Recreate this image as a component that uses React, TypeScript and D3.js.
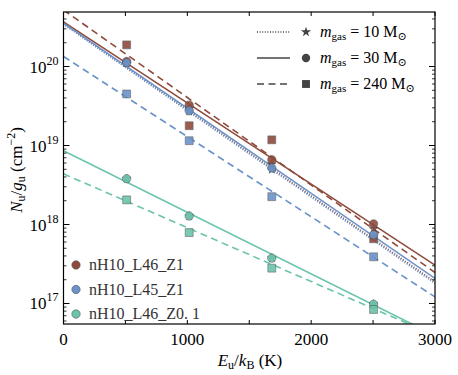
import React from 'react';
import * as d3 from 'd3';

// upper level energies of H2 S(0)..S(3), K
const energies = [510, 1015, 1682, 2504];

const seriesNames = ['nH10_L46_Z1', 'nH10_L45_Z1', 'nH10_L46_Z0. 1'];
const seriesColors = ['#8e4b3c', '#6b93c9', '#6cc4ad'];

// N_u/g_u for each gas mass, per series
const n10 = [
  [1.12e20, 2.9e19, 5.8e18, 8.8e17],
  [1.1e20, 2.7e19, 4.95e18, 7.3e17],
  [3.8e18, 1.28e18, 3.75e17, 9.8e16],
];
const n30 = [
  [1.16e20, 3.25e19, 6.6e18, 1.02e18],
  [1.12e20, 2.75e19, 5.2e18, 7.4e17],
  [3.8e18, 1.28e18, 3.75e17, 9.8e16],
];
const n240 = [
  [1.88e20, 1.78e19, 1.18e19, 6.6e17],
  [4.5e19, 1.15e19, 2.25e18, 3.9e17],
  [2.05e18, 7.9e17, 2.8e17, 8.4e16],
];

// fitted lines: intercept at E=0 and excitation temperature
const fit10 = [[3.5e20, 398], [3.45e20, 397]];
const fit30 = [[3.68e20, 423], [3.55e20, 403], [8.6e18, 557]];
const fit240 = [[5.2e20, 392], [1.34e20, 428], [4.38e18, 637]];

const legendMass = ['10', '30', '240'];

const W = 458, H = 375;
const m = { left: 63.5, right: 435, top: 12, bottom: 324 };
const font = '"Liberation Serif", "DejaVu Serif", serif';

const x = d3.scaleLinear().domain([0, 3000]).range([m.left, m.right]);
const y = d3.scaleLog().domain([5.5e16, 4.9e20]).range([m.bottom, m.top]);

const star = d3.symbol().type(d3.symbolStar).size(22)();
const bigStar = d3.symbol().type(d3.symbolStar).size(32)();
const square = d3.symbol().type(d3.symbolSquare).size(62)();
const circle = d3.symbol().type(d3.symbolCircle).size(55)();

function fitPath(n0: number, t: number) {
  const line = d3.line<number>().x((e) => x(e)).y((e) => y(n0 * Math.exp(-e / t)));
  return line([0, 3000]) as string;
}

export default function App() {
  const xTicks = d3.range(0, 3001, 500);
  const yMajor = [1e17, 1e18, 1e19, 1e20];
  const yMinor: number[] = [];
  for (let p = 16; p <= 20; p++) {
    for (let k = 2; k <= 9; k++) {
      const v = k * Math.pow(10, p);
      if (v >= 5.5e16 && v <= 4.9e20) yMinor.push(v);
    }
  }
  const dash = { dashed: '7,4.5', dotted: '1,1.6' };

  return (
    <svg width={W} height={H} style={{ position: 'absolute', left: 0, top: 0 }}>
      <rect width={W} height={H} fill="#fff" />
      <defs>
        <clipPath id="plot">
          <rect x={m.left} y={m.top} width={m.right - m.left} height={m.bottom - m.top} />
        </clipPath>
      </defs>

      <g clipPath="url(#plot)">
        {fit240.map((f, i) => (
          <path key={'d' + i} d={fitPath(f[0], f[1])} fill="none" stroke={seriesColors[i]}
            strokeWidth={1.6} strokeDasharray={dash.dashed} />
        ))}
        {fit10.map((f, i) => (
          <path key={'o' + i} d={fitPath(f[0], f[1])} fill="none" stroke={seriesColors[i]}
            strokeWidth={2} strokeDasharray={dash.dotted} />
        ))}
        {fit30.map((f, i) => (
          <path key={'s' + i} d={fitPath(f[0], f[1])} fill="none" stroke={seriesColors[i]} strokeWidth={1.6} />
        ))}

        {seriesNames.map((_, i) => (
          <g key={'m' + i}>
            {n10[i].map((v, j) => (
              <path key={'t' + j} d={star} transform={`translate(${x(energies[j])},${y(v)})`}
                fill={seriesColors[i]} stroke="#333" strokeWidth={0.6} opacity={0.9} />
            ))}
            {n30[i].map((v, j) => (
              <path key={'c' + j} d={circle} transform={`translate(${x(energies[j])},${y(v)})`}
                fill={seriesColors[i]} stroke="#555" strokeWidth={0.6} opacity={0.9} />
            ))}
            {n240[i].map((v, j) => (
              <path key={'q' + j} d={square} transform={`translate(${x(energies[j])},${y(v)})`}
                fill={seriesColors[i]} stroke="#555" strokeWidth={0.6} opacity={0.9} />
            ))}
          </g>
        ))}
      </g>

      {/* frame and ticks */}
      <rect x={m.left} y={m.top} width={m.right - m.left} height={m.bottom - m.top}
        fill="none" stroke="#000" strokeWidth={1.2} />
      {xTicks.map((t) => (
        <g key={'xt' + t} stroke="#000" strokeWidth={1}>
          <line x1={x(t)} x2={x(t)} y1={m.bottom} y2={m.bottom - 4} />
          <line x1={x(t)} x2={x(t)} y1={m.top} y2={m.top + 4} />
        </g>
      ))}
      {yMajor.map((t) => (
        <g key={'ym' + t} stroke="#000" strokeWidth={1}>
          <line x1={m.left} x2={m.left + 6} y1={y(t)} y2={y(t)} />
          <line x1={m.right} x2={m.right - 6} y1={y(t)} y2={y(t)} />
        </g>
      ))}
      {yMinor.map((t) => (
        <g key={'yn' + t} stroke="#000" strokeWidth={0.8}>
          <line x1={m.left} x2={m.left + 3} y1={y(t)} y2={y(t)} />
          <line x1={m.right} x2={m.right - 3} y1={y(t)} y2={y(t)} />
        </g>
      ))}

      {/* tick labels */}
      {d3.range(0, 3001, 1000).map((t) => (
        <text key={'xl' + t} x={x(t)} y={345} textAnchor="middle" fontFamily={font} fontSize={17}>{t}</text>
      ))}
      {yMajor.map((t) => (
        <text key={'yl' + t} x={m.left - 5} y={y(t) + 6} textAnchor="end" fontFamily={font} fontSize={17}>
          10<tspan dy={-8} fontSize={12}>{Math.round(Math.log10(t))}</tspan>
        </text>
      ))}

      {/* axis titles */}
      <text x={250} y={366} textAnchor="middle" fontFamily={font} fontSize={17}>
        <tspan fontStyle="italic">E</tspan><tspan fontSize={12} dy={3}>u</tspan>
        <tspan dy={-3}>/</tspan><tspan fontStyle="italic">k</tspan><tspan fontSize={12} dy={3}>B</tspan>
        <tspan dy={-3}> (K)</tspan>
      </text>
      <text transform="translate(22,170) rotate(-90)" textAnchor="middle" fontFamily={font} fontSize={17}>
        <tspan fontStyle="italic">N</tspan><tspan fontSize={12} dy={3}>u</tspan>
        <tspan dy={-3}>/</tspan><tspan fontStyle="italic">g</tspan><tspan fontSize={12} dy={3}>u</tspan>
        <tspan dy={-3}> (cm</tspan><tspan fontSize={12} dy={-7}>−2</tspan><tspan dy={7}>)</tspan>
      </text>

      {/* mass legend */}
      {legendMass.map((mass, i) => {
        const ly = 32 + i * 26;
        const mk = [bigStar, circle, square][i];
        const da = [dash.dotted, undefined, dash.dashed][i];
        return (
          <g key={'lg' + i}>
            <line x1={257} x2={290} y1={ly} y2={ly} stroke="#444" strokeWidth={1.6} strokeDasharray={da} />
            <path d={mk} transform={`translate(306,${ly})`} fill="#444" />
            <text x={320} y={ly + 5} fontFamily={font} fontSize={16}>
              <tspan fontStyle="italic">m</tspan><tspan fontSize={11} dy={3}>gas</tspan>
              <tspan dy={-3}> = {mass} M</tspan><tspan fontSize={11} dy={3}>⊙</tspan>
            </text>
          </g>
        );
      })}

      {/* series legend */}
      {seriesNames.map((name, i) => {
        const ly = 265 + i * 24.5;
        return (
          <g key={'sl' + i}>
            <path d={circle} transform={`translate(76,${ly})`} fill={seriesColors[i]} stroke="#555" strokeWidth={0.6} />
            <text x={89} y={ly + 5} fontFamily={font} fontSize={16} fill="#333">{name}</text>
          </g>
        );
      })}
    </svg>
  );
}
